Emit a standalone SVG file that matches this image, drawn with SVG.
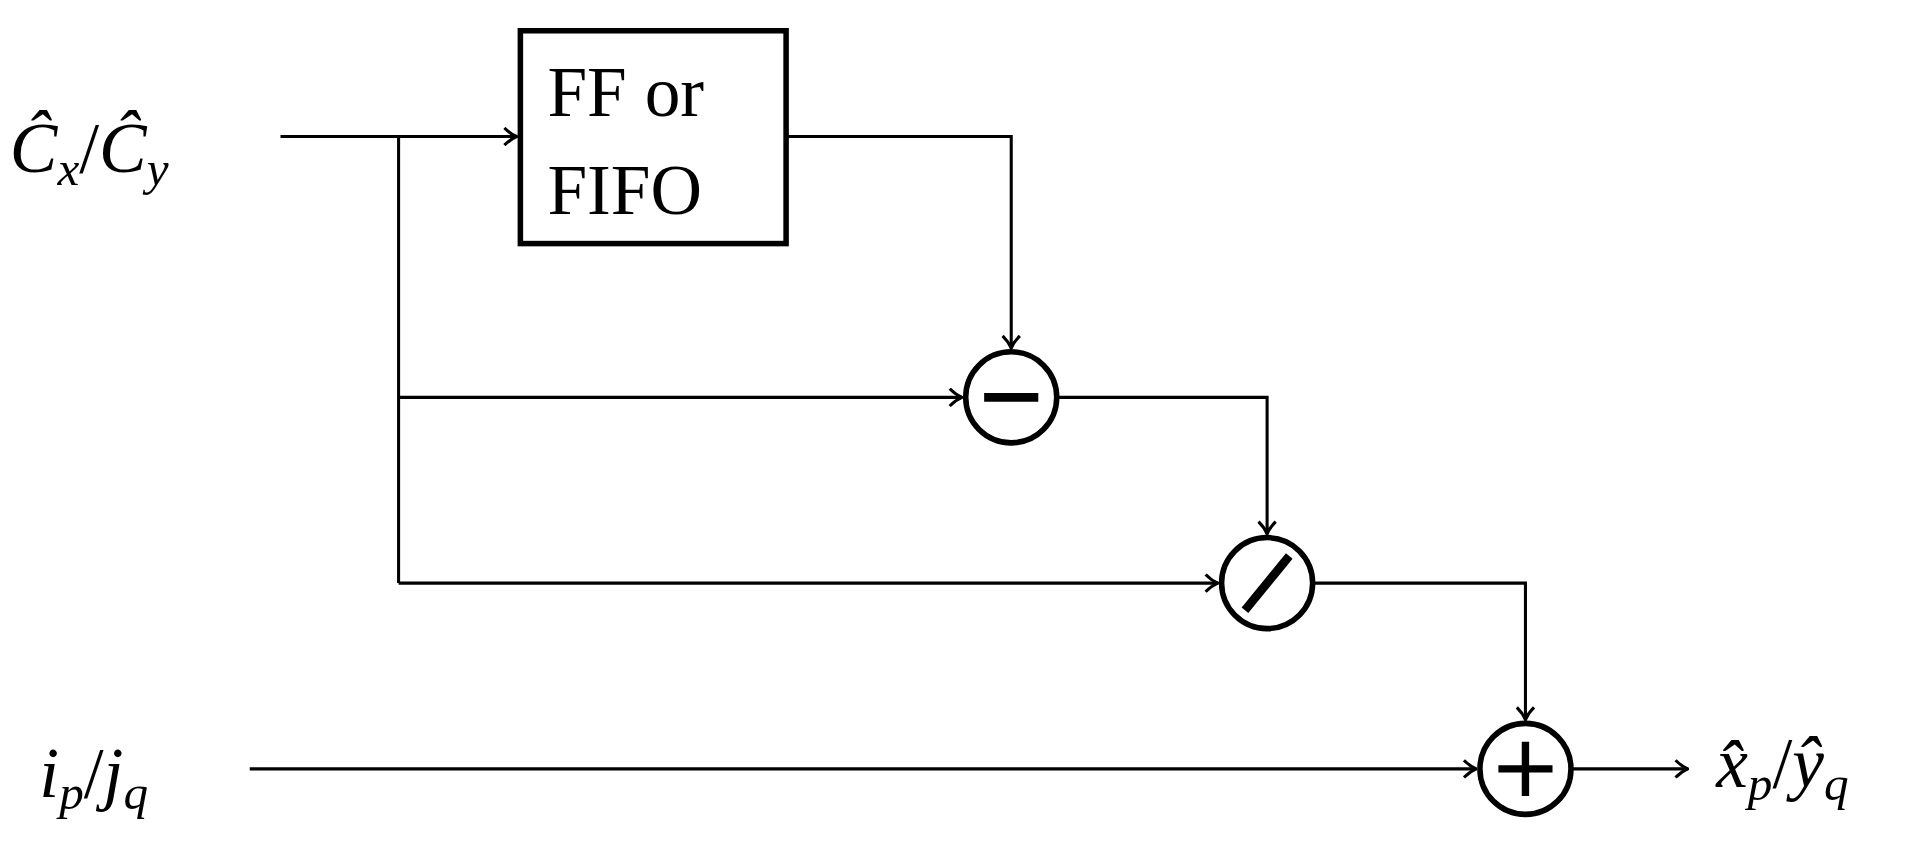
<svg xmlns="http://www.w3.org/2000/svg" width="1929" height="853" viewBox="0 0 1929 853">
<style>
.w{fill:none;stroke:#000;stroke-width:2.5}
.n{fill:#fff;stroke:#000;stroke-width:4.5}
.t{font-family:"Liberation Serif",serif;font-size:58px;fill:#000}
.m{font-style:italic}
.s{font-size:40px;font-style:italic}
</style>
<defs><marker id="a" viewBox="0 0 12 16" refX="11" refY="8" markerWidth="12" markerHeight="16" markerUnits="userSpaceOnUse" orient="auto"><path d="M1,1 Q6,6 11,8 Q6,10 1,15" fill="none" stroke="#000" stroke-width="2.5"/></marker></defs>
<rect width="1929" height="853" fill="#fff"/>
<g transform="scale(1.2302)">
<g id="connectors" class="w">
<path d="M228,111H420" marker-end="url(#a)"/>
<path d="M324,111V474"/>
<path d="M640,111H822V283" marker-end="url(#a)"/>
<path d="M324,323H782" marker-end="url(#a)"/>
<path d="M860,323H1030V434" marker-end="url(#a)"/>
<path d="M324,474H990" marker-end="url(#a)"/>
<path d="M1068,474H1240V585" marker-end="url(#a)"/>
<path d="M203,625H1200" marker-end="url(#a)"/>
<path d="M1278,625H1372" marker-end="url(#a)"/>
</g>
<g id="ff"><rect class="n" x="423" y="25" width="216" height="173"/>
<text class="t" x="445" y="94">FF or</text><text class="t" x="445" y="174">FIFO</text></g>
<g id="minus"><circle class="n" cx="822" cy="323" r="37"/><path d="M800,323H844" stroke="#000" stroke-width="7"/></g>
<g id="div"><circle class="n" cx="1030" cy="474" r="37"/><path d="M1012,496L1048,452" stroke="#000" stroke-width="7"/></g>
<g id="plus"><circle class="n" cx="1240" cy="625" r="37"/><path d="M1218,625H1262M1240,603V647" stroke="#000" stroke-width="6"/></g>
<g id="labels">
<text class="t" x="8" y="140"><tspan class="m">Ĉ</tspan><tspan class="s" dy="10">x</tspan><tspan dy="-10">/</tspan><tspan class="m">Ĉ</tspan><tspan class="s" dy="10">y</tspan></text>
<text class="t" x="32" y="648"><tspan class="m">i</tspan><tspan class="s" dy="10">p</tspan><tspan dy="-10">/</tspan><tspan class="m">j</tspan><tspan class="s" dy="10">q</tspan></text>
<text class="t" x="1395" y="640"><tspan class="m">x̂</tspan><tspan class="s" dy="10">p</tspan><tspan dy="-10">/</tspan><tspan class="m">ŷ</tspan><tspan class="s" dy="10">q</tspan></text>
</g>
</g>
</svg>
